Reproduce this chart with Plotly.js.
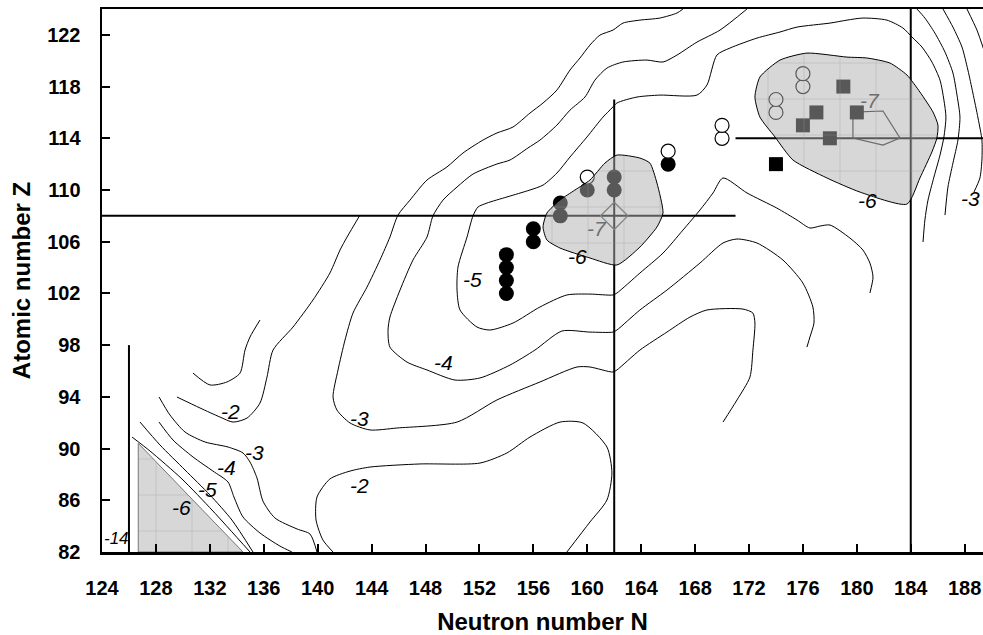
<!DOCTYPE html>
<html><head><meta charset="utf-8">
<script src="https://cdn.plot.ly/plotly-3.0.1.min.js"></script>
<style>html,body{margin:0;padding:0;background:#fff}</style>
</head><body><div id="chart" style="width:983px;height:635px"></div>
<script>
// ---- axis ticks ----
const xTicks = [124,128,132,136,140,144,148,152,156,160,164,168,172,176,180,184,188];
const yTicks = [82,86,90,94,98,102,106,110,114,118,122];

// ---- contour lines (N, Z) ----
const cHookN = [130.75,132.01,133.27,134.24,134.61,134.98,135.72];
const cHookZ = [95.84,94.92,95.15,95.84,97.62,98.63,99.94];

const c2aN = [143.14,142.18,141.66,140.91,139.65,138.17,136.69,136.24,135.72,134.76,133.72,132.75,131.27,129.56];
const c2aZ = [108.06,106.36,105.36,103.58,101.49,99.40,97.62,95.53,93.52,92.36,92.05,92.44,93.14,93.99];

const c2bN = [141.14,140.39,139.88,139.95,140.91,142.40,143.88,147.59,152.04,154.04,155.75,157.98,159.68,161.46,161.83,161.46,160.20,158.49];
const c2bZ = [82.0,82.93,84.47,86.25,87.65,88.26,88.57,88.81,88.88,89.66,90.89,92.05,91.98,90.12,88.11,86.02,84.32,82.0];

const c3aN = [128.23,129.04,130.16,131.64,133.35,134.46,134.98,135.50,135.94,136.83,138.47,139.43,139.95];
const c3aZ = [93.99,92.60,91.28,90.51,90.12,89.66,88.96,87.72,85.94,84.63,83.78,83.39,82.0];

const c3bN = [167.10,166.66,165.39,163.91,162.65,161.91,160.94,160.20,159.46,158.72,157.75,156.72,155.75,154.49,153.30,152.26,150.78,149.59,148.11,146.85,145.96,145.36,144.62,143.66,142.62,142.03,141.51,141.14,141.43,142.40,143.88,145.88,150.34,153.30,156.49,159.24,160.20,161.91,162.20,163.91,165.91,167.62,168.88,171.55,172.29,172.44,172.29,172.07,171.11,170.07];
const c3bZ = [124.0,123.69,123.30,123.14,122.91,122.37,121.98,121.21,120.21,119.28,117.73,116.73,115.95,114.87,114.41,113.86,112.86,111.78,110.77,109.22,108.06,106.36,104.58,102.49,100.48,98.40,96.08,93.99,92.98,91.98,91.44,91.59,92.05,93.76,95.15,96.31,96.31,95.92,96.08,97.62,99.01,100.17,100.72,100.79,100.48,99.71,97.62,95.53,93.76,92.05];

const c3cN = [186.39,187.13,187.80,188.24,188.61,188.99,189.28,189.28,189.13,188.69];
const c3cZ = [124.0,122.60,121.06,119.28,117.50,115.57,113.86,112.32,110.93,109.84];

const c2cN = [188.17,188.91,189.43];
const c2cZ = [124.0,122.37,120.82];

const c4aN = [128.23,129.27,130.75,132.23,133.35,133.79,134.46,135.72,137.20,138.09];
const c4aZ = [92.05,90.66,89.35,88.26,87.41,86.25,84.71,83.47,82.46,82.0];

const c4bN = [171.85,169.85,168.14,166.66,165.62,164.43,162.65,161.46,160.57,159.83,158.72,157.75,156.49,155.60,154.27,153.30,151.52,150.34,149.30,148.55,148.11,147.07,146.11,145.36,145.22,145.36,146.63,148.11,150.19,152.04,154.27,156.12,158.12,160.20,161.91,162.20,163.91,165.91,168.36,170.07,171.11,172.59,174.52,176.00,176.74,176.82,176.52,176.30];
const c4bZ = [124.0,122.37,121.44,120.44,119.90,120.05,119.90,119.43,118.50,117.19,116.18,115.02,113.86,113.25,112.32,112.01,111.23,110.23,109.22,107.99,106.36,104.58,102.26,100.17,99.17,97.85,96.69,96.08,95.30,95.46,96.46,97.62,99.09,99.01,99.01,99.17,100.72,102.26,104.35,105.90,106.21,105.90,104.58,102.80,100.95,99.71,98.63,97.85];

const c4cN = [184.46,185.05,185.79,186.54,187.13,187.43,187.65,187.50,187.13,186.76,186.54];
const c4cZ = [124.0,123.30,122.14,120.67,119.05,117.34,115.64,113.86,112.08,110.23,108.06];

const c5aN = [126.82,128.30,130.16,132.01,133.64,135.20];
const c5aZ = [92.05,90.28,88.34,86.41,84.47,82.0];

const c5bN = [180.97,181.20,180.97,180.45,179.49,178.01,177.26,176.52,175.56,174.07,171.85,170.07,169.33,168.36,167.10,165.62,163.91,162.20,161.91,160.20,158.49,156.49,154.49,152.78,151.82,150.56,150.34,150.41,151.08,151.52,151.89,152.56,154.04,155.75,156.72,157.75,158.72,159.98,161.17,161.83,162.20,163.69,165.39,168.14,168.88,169.62,170.59,172.59,174.30,175.56,178.01,179.27,180.45,182.23,183.42,184.09,184.83,185.57,186.17,186.46,186.61,186.46,186.17,185.72,185.28,185.05,184.91];
const c5bZ = [102.03,103.27,104.35,105.36,106.28,107.29,107.21,107.06,107.68,108.60,109.77,110.93,109.77,108.45,106.90,105.12,103.58,102.03,101.88,101.95,101.88,100.95,99.71,99.17,99.40,100.72,102.26,104.04,106.36,107.99,108.68,108.99,109.46,110.0,110.38,111.31,112.55,114.10,115.64,116.34,116.73,117.19,117.34,117.34,118.12,120.44,120.98,121.75,122.22,122.60,122.91,123.14,123.30,123.14,122.53,121.83,121.06,119.90,118.50,116.96,115.64,114.10,112.70,111.0,109.22,107.68,105.98];

const c6lineN = [126.23,127.56,129.93,132.23,134.98];
const c6lineZ = [90.89,89.81,87.65,85.17,82.0];

// -7 contour (right) and shaded regions (E <= -6)
const c7N = [179.71,181.94,183.20,181.94,179.71,179.71];
const c7Z = [116.03,116.11,114.02,113.48,114.02,116.03];

const regTriN = [126.69,126.69,134.46,126.69];
const regTriZ = [82.0,90.41,82.0,82.0];

const regMidN = [162.20,163.91,164.65,165.17,165.62,165.17,163.91,162.20,160.20,157.98,157.01,156.72,157.01,157.98,159.09,160.20,161.31,162.20];
const regMidZ = [112.70,112.47,112.08,110.54,108.22,107.14,105.59,104.20,104.74,105.51,106.13,107.14,108.22,109.22,110.0,110.77,112.08,112.70];

const regRightN = [172.44,172.81,174.30,176.30,179.27,180.75,182.46,183.72,184.68,185.65,186.02,185.94,185.57,184.68,183.72,180.23,177.78,175.26,173.93,172.81,172.44];
const regRightZ = [117.19,118.74,120.05,120.59,120.28,120.21,119.82,118.89,117.58,116.03,115.02,114.02,112.94,110.93,108.91,109.84,110.93,112.32,114.10,115.64,117.19];

// ---- magic-number guide lines ----
const magicZ108N = [124,171.0], magicZ108Z = [108,108];
const magicN162N = [162,162], magicN162Z = [82,117];
const magicN184N = [184,184], magicN184Z = [82,124];
const magicZ114N = [171.0,189.5], magicZ114Z = [114,114];
const magicN126N = [126,126], magicN126Z = [82,98];

// ---- nuclei ----
const filledCircN = [154,154,154,154,156,156,158,158,160,162,162,166];
const filledCircZ = [102,103,104,105,106,107,108,109,110,110,111,112];
const openCircN = [160,166,170,170,174,174,176,176];
const openCircZ = [111,113,114,115,116,117,118,119];
const filledSqN = [174,176,177,178,179,180];
const filledSqZ = [112,115,116,114,118,116];
const diamondN = [162], diamondZ = [108];

// ---- contour value labels ----
const labText = ['-2','-3','-4','-5','-6','-14','-3','-2','-4','-5','-6','-6','-3'];
const labN    = [133.5,135.35,133.2,131.79,129.93,125.11,143.07,143.07,149.3,151.52,159.31,180.82,189.3];
const labZ    = [92.9,89.73,88.5,86.8,85.48,83.08,92.36,87.18,96.69,103.04,104.82,109.22,109.38];
const grayLabText = ['-7','-7'];
const grayLabN = [160.72,180.97];
const grayLabZ = [107.06,116.96];

const FONT = 'Liberation Sans, Arial, sans-serif';
const traces = [];
function contour(N, Z){
  traces.push({x:N, y:Z, type:'scatter', mode:'lines', hoverinfo:'skip',
    line:{color:'#000', width:1, shape:'spline', smoothing:0.7}});
}
[[cHookN,cHookZ],[c2aN,c2aZ],[c2bN,c2bZ],[c2cN,c2cZ],[c3aN,c3aZ],[c3bN,c3bZ],[c3cN,c3cZ],
 [c4aN,c4aZ],[c4bN,c4bZ],[c4cN,c4cZ],[c5aN,c5aZ],[c5bN,c5bZ],[c6lineN,c6lineZ]].forEach(p=>contour(p[0],p[1]));

function guide(N, Z, w){
  traces.push({x:N, y:Z, type:'scatter', mode:'lines', hoverinfo:'skip', line:{color:'#000', width:w}});
}
guide(magicZ108N, magicZ108Z, 2);
guide(magicN162N, magicN162Z, 2);
guide(magicN184N, magicN184Z, 2);
guide(magicZ114N, magicZ114Z, 2);
guide(magicN126N, magicN126Z, 2);

traces.push({x:c7N, y:c7Z, type:'scatter', mode:'lines', hoverinfo:'skip', line:{color:'#222', width:1.2}});
traces.push({x:diamondN, y:diamondZ, type:'scatter', mode:'markers', hoverinfo:'skip',
  marker:{symbol:'diamond-open', size:21, color:'#555', line:{width:1.3, color:'#555'}}});
traces.push({x:filledCircN, y:filledCircZ, type:'scatter', mode:'markers', hoverinfo:'skip',
  marker:{symbol:'circle', size:15, color:'#000', line:{width:0}}});
traces.push({x:openCircN, y:openCircZ, type:'scatter', mode:'markers', hoverinfo:'skip',
  marker:{symbol:'circle', size:14, color:'#fff', line:{width:1.2, color:'#000'}}});
traces.push({x:filledSqN, y:filledSqZ, type:'scatter', mode:'markers', hoverinfo:'skip',
  marker:{symbol:'square', size:14, color:'#000', line:{width:0}}});

function region(N, Z, lc, smooth){
  traces.push({x:N, y:Z, type:'scatter', mode:'lines', fill:'toself', hoverinfo:'skip',
    fillcolor:'rgba(176,176,176,0.5)',
    fillpattern:{shape:'+', size:36, solidity:0.05, fgcolor:'rgba(150,150,150,0.35)',
                 bgcolor:'rgba(176,176,176,0.5)', fillmode:'replace'},
    line:{color:lc, width:1, shape: smooth ? 'spline' : 'linear', smoothing:0.6}});
}
region(regTriN, regTriZ, '#777', false);
region(regMidN, regMidZ, '#000', true);
region(regRightN, regRightZ, '#000', true);

const annotations = [];
labText.forEach((t,i)=>annotations.push({x:labN[i], y:labZ[i], xref:'x', yref:'y', text:'<i>'+t+'</i>',
  showarrow:false, xanchor: i===labText.length-1 ? 'right' : 'center',
  font:{family:FONT, size: t==='-14'?17:21, color:'#000'}}));
grayLabText.forEach((t,i)=>annotations.push({x:grayLabN[i], y:grayLabZ[i], xref:'x', yref:'y', text:'<i>'+t+'</i>',
  showarrow:false, font:{family:FONT, size:21, color:'#6e6e6e'}}));

const layout = {
  width:983, height:635, margin:{l:102, r:0, t:9, b:83},
  paper_bgcolor:'#fff', plot_bgcolor:'#fff', showlegend:false,
  font:{family:FONT, color:'#000'},
  xaxis:{range:[124,189.36], tickvals:xTicks, ticktext:xTicks.map(String), ticks:'inside', ticklen:8, tickwidth:2,
    tickcolor:'#000', showline:true, linewidth:2.5, linecolor:'#000', mirror:true, showgrid:false, zeroline:false,
    ticklabelstandoff:16, tickfont:{family:FONT, size:20, weight:'bold', color:'#000'},
    title:{text:'Neutron number N', font:{family:FONT, size:24, weight:'bold', color:'#000'}, standoff:16}},
  yaxis:{range:[82,124], tickvals:yTicks, ticktext:yTicks.map(String), ticks:'inside', ticklen:8, tickwidth:2,
    tickcolor:'#000', showline:true, linewidth:2.5, linecolor:'#000', mirror:false, showgrid:false, zeroline:false,
    ticklabelstandoff:15, tickfont:{family:FONT, size:20, weight:'bold', color:'#000'},
    title:{text:'Atomic number Z', font:{family:FONT, size:24, weight:'bold', color:'#000'}, standoff:10}},
  annotations:annotations
};
Plotly.newPlot('chart', traces, layout, {displayModeBar:false, staticPlot:true});
</script></body></html>
